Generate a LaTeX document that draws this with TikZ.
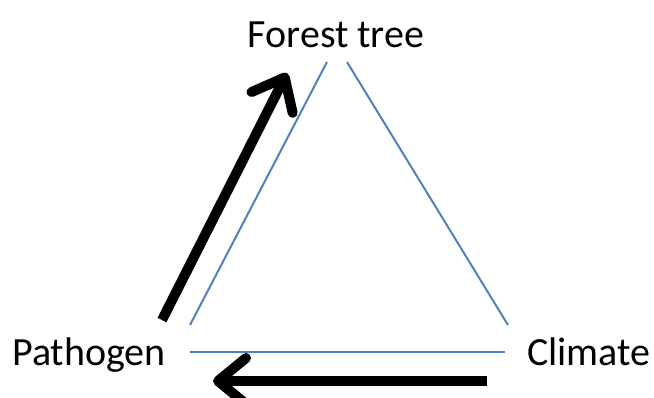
\documentclass[tikz,border=0pt]{standalone}
\usepackage{fontspec}
\setmainfont{Carlito}
\usetikzlibrary{arrows.meta, positioning}
\definecolor{ink}{HTML}{000000}
\definecolor{edge}{HTML}{4F81BD}
\tikzset{
  lbl/.style={font=\fontsize{40}{48}\selectfont, text=ink, inner sep=0pt},
  %
  side/.style={draw=edge, line width=2pt},
  push/.style={draw=ink, line width=10pt,
               -{Straight Barb[length=28pt, width=46pt, round]}},
}

\begin{document}
\begin{tikzpicture}[x=1pt, y=1pt]
\useasboundingbox (0,0) rectangle (654,397);

% ---------------------------------------------------------------- labels
\node[lbl, anchor=base]      (tree) at (336,349) {Forest tree};
\node[lbl, anchor=base west] (path) at (12,32)   {Pathogen};
\node[lbl, anchor=base west] (clim) at (527,32)  {Climate};

% -------------------------------------------------------------- triangle
\coordinate (tl) at (327,335); \coordinate (tr) at (347,335);
\coordinate (pl) at (190,72);  \coordinate (pb) at (190,45);
\coordinate (cr) at (508,72);  \coordinate (cb) at (505,45);

\draw[side] (pl) -- (tl);
\draw[side] (tr) -- (cr);
\draw[side] (pb) -- (cb);

% ---------------------------------------------------------------- arrows
\coordinate (up0) at (162,77);  \coordinate (up1) at (287,324);
\coordinate (lf0) at (487,16);  \coordinate (lf1) at (213,16);

\draw[push] (up0) -- (up1);
\draw[push] (lf0) -- (lf1);

\end{tikzpicture}
\end{document}
